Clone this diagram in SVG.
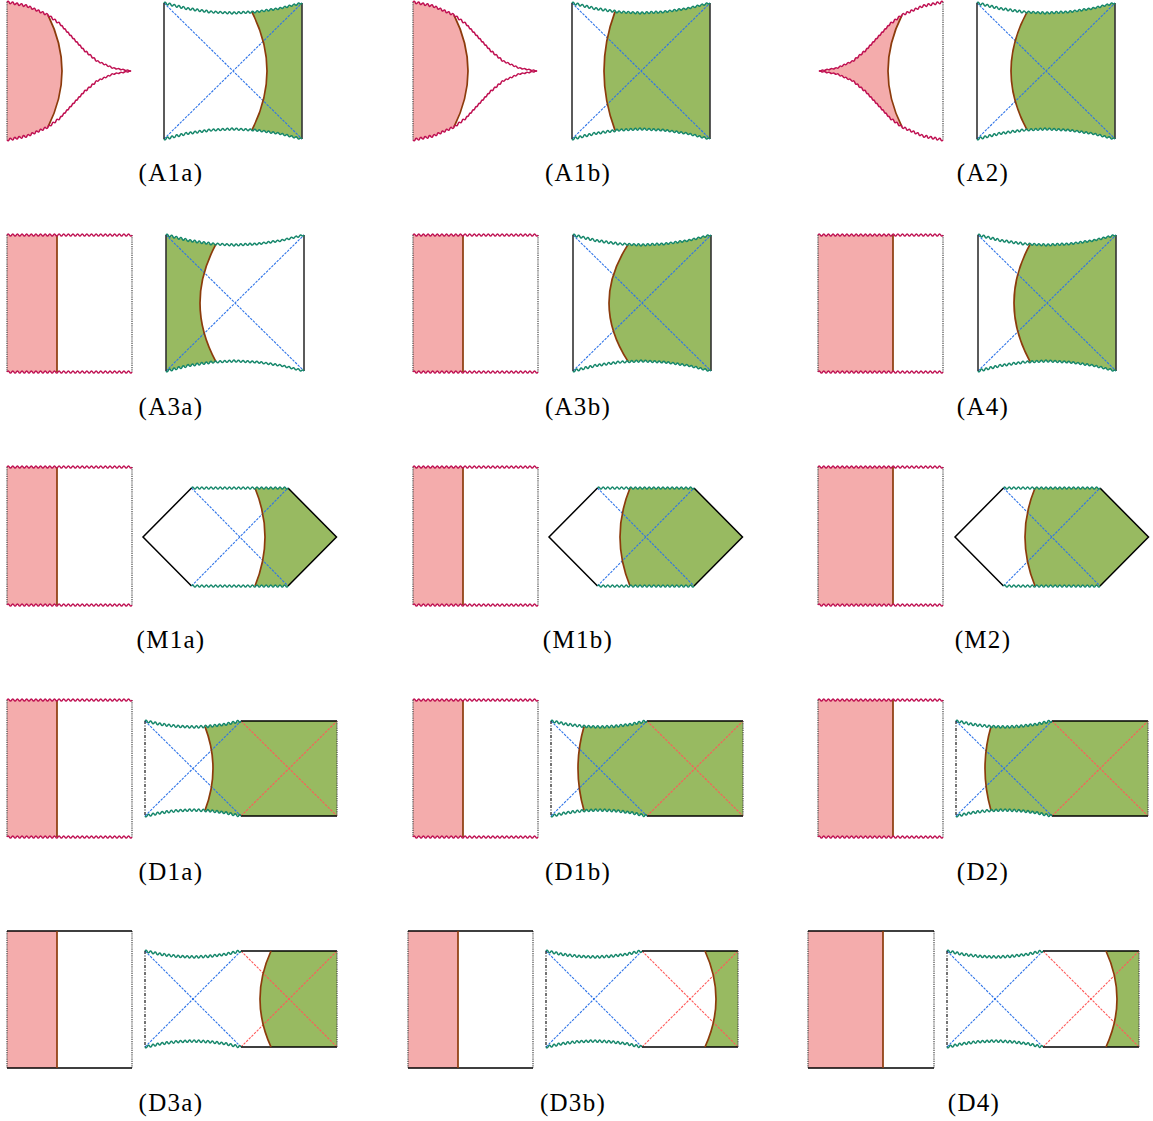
<svg xmlns="http://www.w3.org/2000/svg" xmlns:xlink="http://www.w3.org/1999/xlink" width="1153" height="1121" viewBox="0 0 1153 1121">
<style>
.pink{fill:#F4ACAC}
.green{fill:#98BA61}
.arc{fill:none;stroke:#8C3B0C;stroke-width:1.7}
.wr{fill:none;stroke:#BF1152;stroke-width:1.5}
.wg{fill:none;stroke:#16876B;stroke-width:1.5}
.dot{fill:none;stroke:#444;stroke-width:1.2;stroke-dasharray:1.2,1}
.edge{fill:none;stroke:#333;stroke-width:1.6}
.blk{fill:none;stroke:#000;stroke-width:1.5}
.blue{fill:none;stroke:#2F74E8;stroke-width:1.1;stroke-dasharray:2.5,1.2}
.red{fill:none;stroke:#FF5A5A;stroke-width:1.1;stroke-dasharray:2.5,1.2}
.dd{fill:none;stroke:#000;stroke-width:1.1;stroke-dasharray:3,1.5,1,1.5}
.lbl{font-family:"Liberation Serif","Times New Roman",serif;font-size:25px;text-anchor:middle;letter-spacing:1.3px;fill:#000}
</style>
<defs>
<path id="bw" d="M0,0q1.15,-1.9 2.3,0.556t2.3,0.556 2.3,0.556 2.3,0.556 2.3,0.556 2.3,0.556 2.3,0.556 2.3,0.556 2.3,0.556 2.3,0.556 2.3,0.333 2.3,0.333 2.3,0.333 2.3,0.333 2.3,0.333 2.3,0.333 2.3,0.333 2.3,0.333 2.3,0.333 2.3,0.333 2.3,0.111 2.3,0.111 2.3,0.111 2.3,0.111 2.3,0.111 2.3,0.111 2.3,0.111 2.3,0.111 2.3,0.111 2.3,0.111 2.3,-0.111 2.3,-0.111 2.3,-0.111 2.3,-0.111 2.3,-0.111 2.3,-0.111 2.3,-0.111 2.3,-0.111 2.3,-0.111 2.3,-0.111 2.3,-0.333 2.3,-0.333 2.3,-0.333 2.3,-0.333 2.3,-0.333 2.3,-0.333 2.3,-0.333 2.3,-0.333 2.3,-0.333 2.3,-0.333 2.3,-0.556 2.3,-0.556 2.3,-0.556 2.3,-0.556 2.3,-0.556 2.3,-0.556 2.3,-0.556 2.3,-0.556 2.3,-0.556 2.3,-0.556"/>
<path id="dw" d="M0,0q1.143,-1.95 2.286,0.476t2.286,0.476 2.286,0.476 2.286,0.476 2.286,0.476 2.286,0.476 2.286,0.476 2.286,0.286 2.286,0.286 2.286,0.286 2.286,0.286 2.286,0.286 2.286,0.286 2.286,0.286 2.286,0.095 2.286,0.095 2.286,0.095 2.286,0.095 2.286,0.095 2.286,0.095 2.286,0.095 2.286,-0.095 2.286,-0.095 2.286,-0.095 2.286,-0.095 2.286,-0.095 2.286,-0.095 2.286,-0.095 2.286,-0.286 2.286,-0.286 2.286,-0.286 2.286,-0.286 2.286,-0.286 2.286,-0.286 2.286,-0.286 2.286,-0.476 2.286,-0.476 2.286,-0.476 2.286,-0.476 2.286,-0.476 2.286,-0.476 2.286,-0.476"/>
<path id="sw" d="M0,0q1.157,-2.2 2.315,0t2.315,0 2.315,0 2.315,0 2.315,0 2.315,0 2.315,0 2.315,0 2.315,0 2.315,0 2.315,0 2.315,0 2.315,0 2.315,0 2.315,0 2.315,0 2.315,0 2.315,0 2.315,0 2.315,0 2.315,0 2.315,0 2.315,0 2.315,0 2.315,0 2.315,0 2.315,0 2.315,0 2.315,0 2.315,0 2.315,0 2.315,0 2.315,0 2.315,0 2.315,0 2.315,0 2.315,0 2.315,0 2.315,0 2.315,0 2.315,0 2.315,0 2.315,0 2.315,0 2.315,0 2.315,0 2.315,0 2.315,0 2.315,0 2.315,0 2.315,0 2.315,0 2.315,0 2.315,0"/>
<path id="hw" d="M0,0q1.149,-2.2 2.298,0t2.298,0 2.298,0 2.298,0 2.298,0 2.298,0 2.298,0 2.298,0 2.298,0 2.298,0 2.298,0 2.298,0 2.298,0 2.298,0 2.298,0 2.298,0 2.298,0 2.298,0 2.298,0 2.298,0 2.298,0 2.298,0 2.298,0 2.298,0 2.298,0 2.298,0 2.298,0 2.298,0 2.298,0 2.298,0 2.298,0 2.298,0 2.298,0 2.298,0 2.298,0 2.298,0 2.298,0 2.298,0 2.298,0 2.298,0 2.298,0 2.298,0"/>
<path id="cw" d="M0,0q1.4,-1.9 2.222,0.444t2.222,0.444 2.222,0.444 2.222,0.444 2.222,0.444 2.222,0.444 2.222,0.444 2.222,0.444 2.222,0.444 2.1,0.9 2.1,0.9 2.1,0.9 2.1,0.9 2.1,0.9 2.1,0.9 2.1,0.9 2.1,0.9 2.1,0.9 2.1,0.9 2,1.5 2,1.5 2,1.5 2,1.5 2,1.5 2,1.5 1.5,1.625 1.5,1.625 1.5,1.625 1.5,1.625 1.5,1.625 1.5,1.625 1.5,1.625 1.5,1.625 1.5,1.625 1.5,1.625 1.5,1.625 1.5,1.625 1.5,1.625 1.5,1.625 1.5,1.625 1.5,1.625 1.857,1.571 1.857,1.571 1.857,1.571 1.857,1.571 1.857,1.571 1.857,1.571 1.857,1.571 2,0.875 2,0.875 2,0.875 2,0.875 2,0.875 2,0.875 2,0.875 2,0.875 2.25,0.375 2.25,0.375 2.25,0.375 2.25,0.375 2.25,0.375 2.25,0.375 2.25,0.375 2.25,0.375"/>
<clipPath id="bclip" clipPathUnits="userSpaceOnUse"><path d="M0,0 Q69,20 138,0 L138,136 Q69,116 0,136 Z"/></clipPath>
<clipPath id="dclip" clipPathUnits="userSpaceOnUse"><path d="M0,0 Q48,12 96,0 L192,0 L192,95 L96,95 Q48,83 0,95 Z"/></clipPath>
</defs>

<g id="A1a">
 <g id="A1a-left">
  <path class="pink" d="M7,2 L27,6 L48,15 Q76,71 48,127 L27,136 L7,140 Z"/>
  <path class="dot" d="M7,2 V140"/>
  <path class="arc" d="M48,15 Q76,71 48,127"/>
  <use href="#cw" class="wr" x="7" y="2"/>
  <use href="#cw" class="wr" transform="translate(7,140) scale(1,-1)"/>
 </g>
 <g id="A1a-right" transform="translate(164,3)">
  <path class="green" clip-path="url(#bclip)" d="M88,9.2 Q118,68 88,126.8 L88,140 L142,140 L142,-4 L88,-4 Z"/>
  <path class="blue" d="M0,0 L138,136 M0,136 L138,0"/>
  <path class="edge" d="M0,0 V136 M138,0 V136"/>
  <path class="arc" d="M88,9.2 Q118,68 88,126.8"/>
  <use href="#bw" class="wg"/>
  <use href="#bw" class="wg" transform="translate(0,136) scale(1,-1)"/>
 </g>
 <text class="lbl" x="171" y="181">(A1a)</text>
</g>

<g id="A1b">
 <g id="A1b-left" transform="translate(406,0)">
  <path class="pink" d="M7,2 L27,6 L48,15 Q76,71 48,127 L27,136 L7,140 Z"/>
  <path class="dot" d="M7,2 V140"/>
  <path class="arc" d="M48,15 Q76,71 48,127"/>
  <use href="#cw" class="wr" x="7" y="2"/>
  <use href="#cw" class="wr" transform="translate(7,140) scale(1,-1)"/>
 </g>
 <g id="A1b-right" transform="translate(572,3)">
  <path class="green" clip-path="url(#bclip)" d="M43,8.6 Q21,68 43,127.4 L43,140 L142,140 L142,-4 L43,-4 Z"/>
  <path class="blue" d="M0,0 L138,136 M0,136 L138,0"/>
  <path class="edge" d="M0,0 V136 M138,0 V136"/>
  <path class="arc" d="M43,8.6 Q21,68 43,127.4"/>
  <use href="#bw" class="wg"/>
  <use href="#bw" class="wg" transform="translate(0,136) scale(1,-1)"/>
 </g>
 <text class="lbl" x="578" y="181">(A1b)</text>
</g>

<g id="A2">
 <g id="A2-left" transform="translate(950,0) scale(-1,1)">
  <path class="pink" d="M48,15 L60,24 L72,37 L84,50 L97,61 L113,68 L131,71 L113,74 L97,81 L84,92 L72,105 L60,118 L48,127 Q76,71 48,15 Z"/>
  <path class="dot" d="M7,2 V140"/>
  <path class="arc" d="M48,15 Q76,71 48,127"/>
  <use href="#cw" class="wr" x="7" y="2"/>
  <use href="#cw" class="wr" transform="translate(7,140) scale(1,-1)"/>
 </g>
 <g id="A2-right" transform="translate(977,3)">
  <path class="green" clip-path="url(#bclip)" d="M50,9.2 Q18,68 50,126.8 L50,140 L142,140 L142,-4 L50,-4 Z"/>
  <path class="blue" d="M0,0 L138,136 M0,136 L138,0"/>
  <path class="edge" d="M0,0 V136 M138,0 V136"/>
  <path class="arc" d="M50,9.2 Q18,68 50,126.8"/>
  <use href="#bw" class="wg"/>
  <use href="#bw" class="wg" transform="translate(0,136) scale(1,-1)"/>
 </g>
 <text class="lbl" x="983" y="181">(A2)</text>
</g>

<g id="A3a">
 <g id="A3a-left" transform="translate(7,235)">
  <rect class="pink" x="0" y="0" width="50" height="137"/>
  <path class="dot" d="M0,0 V137 M125,0 V137"/>
  <path class="arc" d="M50,0 V137"/>
  <use href="#sw" class="wr"/>
  <use href="#sw" class="wr" y="137"/>
 </g>
 <g id="A3a-right" transform="translate(166,235)">
  <path class="green" clip-path="url(#bclip)" d="M50,9.2 Q18,68 50,126.8 L50,140 L-4,140 L-4,-4 L50,-4 Z"/>
  <path class="blue" d="M0,0 L138,136 M0,136 L138,0"/>
  <path class="edge" d="M0,0 V136 M138,0 V136"/>
  <path class="arc" d="M50,9.2 Q18,68 50,126.8"/>
  <use href="#bw" class="wg"/>
  <use href="#bw" class="wg" transform="translate(0,136) scale(1,-1)"/>
 </g>
 <text class="lbl" x="171" y="415">(A3a)</text>
</g>

<g id="A3b">
 <g id="A3b-left" transform="translate(413,235)">
  <rect class="pink" x="0" y="0" width="50" height="137"/>
  <path class="dot" d="M0,0 V137 M125,0 V137"/>
  <path class="arc" d="M50,0 V137"/>
  <use href="#sw" class="wr"/>
  <use href="#sw" class="wr" y="137"/>
 </g>
 <g id="A3b-right" transform="translate(573,235)">
  <path class="green" clip-path="url(#bclip)" d="M55,9.6 Q17,68 55,126.4 L55,140 L142,140 L142,-4 L55,-4 Z"/>
  <path class="blue" d="M0,0 L138,136 M0,136 L138,0"/>
  <path class="edge" d="M0,0 V136 M138,0 V136"/>
  <path class="arc" d="M55,9.6 Q17,68 55,126.4"/>
  <use href="#bw" class="wg"/>
  <use href="#bw" class="wg" transform="translate(0,136) scale(1,-1)"/>
 </g>
 <text class="lbl" x="578" y="415">(A3b)</text>
</g>

<g id="A4">
 <g id="A4-left" transform="translate(818,235)">
  <rect class="pink" x="0" y="0" width="75" height="137"/>
  <path class="dot" d="M0,0 V137 M125,0 V137"/>
  <path class="arc" d="M75,0 V137"/>
  <use href="#sw" class="wr"/>
  <use href="#sw" class="wr" y="137"/>
 </g>
 <g id="A4-right" transform="translate(978,235)">
  <path class="green" clip-path="url(#bclip)" d="M52,9.4 Q20,68 52,126.6 L52,140 L142,140 L142,-4 L52,-4 Z"/>
  <path class="blue" d="M0,0 L138,136 M0,136 L138,0"/>
  <path class="edge" d="M0,0 V136 M138,0 V136"/>
  <path class="arc" d="M52,9.4 Q20,68 52,126.6"/>
  <use href="#bw" class="wg"/>
  <use href="#bw" class="wg" transform="translate(0,136) scale(1,-1)"/>
 </g>
 <text class="lbl" x="983" y="415">(A4)</text>
</g>

<g id="M1a">
 <g id="M1a-left" transform="translate(7,467)">
  <rect class="pink" x="0" y="0" width="50" height="138"/>
  <path class="dot" d="M0,0 V138 M125,0 V138"/>
  <path class="arc" d="M50,0 V138"/>
  <use href="#sw" class="wr"/>
  <use href="#sw" class="wr" y="138"/>
 </g>
 <g id="M1a-right" transform="translate(143,537)">
  <path class="green" d="M112,-49 Q132,0 112,49 L145,49 L193.5,0 L145,-49 Z"/>
  <path class="blue" d="M48.5,-49 L145,49 M48.5,49 L145,-49"/>
  <path class="blk" d="M48.5,-49 L0,0 L48.5,49 M145,-49 L193.5,0 L145,49"/>
  <path class="arc" d="M112,-49 Q132,0 112,49"/>
  <use href="#hw" class="wg" x="48.5" y="-49"/>
  <use href="#hw" class="wg" x="48.5" y="49"/>
 </g>
 <text class="lbl" x="171" y="648">(M1a)</text>
</g>

<g id="M1b">
 <g id="M1b-left" transform="translate(413,467)">
  <rect class="pink" x="0" y="0" width="50" height="138"/>
  <path class="dot" d="M0,0 V138 M125,0 V138"/>
  <path class="arc" d="M50,0 V138"/>
  <use href="#sw" class="wr"/>
  <use href="#sw" class="wr" y="138"/>
 </g>
 <g id="M1b-right" transform="translate(549,537)">
  <path class="green" d="M81,-49 Q61,0 81,49 L145,49 L193.5,0 L145,-49 Z"/>
  <path class="blue" d="M48.5,-49 L145,49 M48.5,49 L145,-49"/>
  <path class="blk" d="M48.5,-49 L0,0 L48.5,49 M145,-49 L193.5,0 L145,49"/>
  <path class="arc" d="M81,-49 Q61,0 81,49"/>
  <use href="#hw" class="wg" x="48.5" y="-49"/>
  <use href="#hw" class="wg" x="48.5" y="49"/>
 </g>
 <text class="lbl" x="578" y="648">(M1b)</text>
</g>

<g id="M2">
 <g id="M2-left" transform="translate(818,467)">
  <rect class="pink" x="0" y="0" width="75" height="138"/>
  <path class="dot" d="M0,0 V138 M125,0 V138"/>
  <path class="arc" d="M75,0 V138"/>
  <use href="#sw" class="wr"/>
  <use href="#sw" class="wr" y="138"/>
 </g>
 <g id="M2-right" transform="translate(955,537)">
  <path class="green" d="M80,-49 Q60,0 80,49 L145,49 L193.5,0 L145,-49 Z"/>
  <path class="blue" d="M48.5,-49 L145,49 M48.5,49 L145,-49"/>
  <path class="blk" d="M48.5,-49 L0,0 L48.5,49 M145,-49 L193.5,0 L145,49"/>
  <path class="arc" d="M80,-49 Q60,0 80,49"/>
  <use href="#hw" class="wg" x="48.5" y="-49"/>
  <use href="#hw" class="wg" x="48.5" y="49"/>
 </g>
 <text class="lbl" x="983" y="648">(M2)</text>
</g>

<g id="D1a">
 <g id="D1a-left" transform="translate(7,700)">
  <rect class="pink" x="0" y="0" width="50" height="137"/>
  <path class="dot" d="M0,0 V137 M125,0 V137"/>
  <path class="arc" d="M50,0 V137"/>
  <use href="#sw" class="wr"/>
  <use href="#sw" class="wr" y="137"/>
 </g>
 <g id="D1a-right" transform="translate(145,721)">
  <path class="green" clip-path="url(#dclip)" d="M60,5.6 Q76,47.5 60,89.4 L60,100 L195,100 L195,-5 L60,-5 Z"/>
  <path class="blue" d="M0,0 L96,95 M0,95 L96,0"/>
  <path class="red" d="M96,0 L192,95 M96,95 L192,0"/>
  <path class="blk" d="M96,0 H192 M96,95 H192"/>
  <path class="dd" d="M0,0 V95"/>
  <path class="dot" d="M192,0 V95"/>
  <path class="arc" d="M60,5.6 Q76,47.5 60,89.4"/>
  <use href="#dw" class="wg"/>
  <use href="#dw" class="wg" transform="translate(0,95) scale(1,-1)"/>
 </g>
 <text class="lbl" x="171" y="880">(D1a)</text>
</g>

<g id="D1b">
 <g id="D1b-left" transform="translate(413,700)">
  <rect class="pink" x="0" y="0" width="50" height="137"/>
  <path class="dot" d="M0,0 V137 M125,0 V137"/>
  <path class="arc" d="M50,0 V137"/>
  <use href="#sw" class="wr"/>
  <use href="#sw" class="wr" y="137"/>
 </g>
 <g id="D1b-right" transform="translate(551,721)">
  <path class="green" clip-path="url(#dclip)" d="M33,5.4 Q21,47.5 33,89.6 L33,100 L195,100 L195,-5 L33,-5 Z"/>
  <path class="blue" d="M0,0 L96,95 M0,95 L96,0"/>
  <path class="red" d="M96,0 L192,95 M96,95 L192,0"/>
  <path class="blk" d="M96,0 H192 M96,95 H192"/>
  <path class="dd" d="M0,0 V95"/>
  <path class="dot" d="M192,0 V95"/>
  <path class="arc" d="M33,5.4 Q21,47.5 33,89.6"/>
  <use href="#dw" class="wg"/>
  <use href="#dw" class="wg" transform="translate(0,95) scale(1,-1)"/>
 </g>
 <text class="lbl" x="578" y="880">(D1b)</text>
</g>

<g id="D2">
 <g id="D2-left" transform="translate(818,700)">
  <rect class="pink" x="0" y="0" width="75" height="137"/>
  <path class="dot" d="M0,0 V137 M125,0 V137"/>
  <path class="arc" d="M75,0 V137"/>
  <use href="#sw" class="wr"/>
  <use href="#sw" class="wr" y="137"/>
 </g>
 <g id="D2-right" transform="translate(956,721)">
  <path class="green" clip-path="url(#dclip)" d="M35,5.6 Q23,47.5 35,89.4 L35,100 L195,100 L195,-5 L35,-5 Z"/>
  <path class="blue" d="M0,0 L96,95 M0,95 L96,0"/>
  <path class="red" d="M96,0 L192,95 M96,95 L192,0"/>
  <path class="blk" d="M96,0 H192 M96,95 H192"/>
  <path class="dd" d="M0,0 V95"/>
  <path class="dot" d="M192,0 V95"/>
  <path class="arc" d="M35,5.6 Q23,47.5 35,89.4"/>
  <use href="#dw" class="wg"/>
  <use href="#dw" class="wg" transform="translate(0,95) scale(1,-1)"/>
 </g>
 <text class="lbl" x="983" y="880">(D2)</text>
</g>

<g id="D3a">
 <g id="D3a-left" transform="translate(7,931)">
  <rect class="pink" x="0" y="0" width="50" height="137"/>
  <path class="dot" d="M0,0 V137 M125,0 V137"/>
  <path class="blk" d="M0,0 H125 M0,137 H125"/>
  <path class="arc" d="M50,0 V137"/>
 </g>
 <g id="D3a-right" transform="translate(145,951)">
  <path class="green" d="M126,0 Q104,48 126,96 L192,96 L192,0 Z"/>
  <path class="blue" d="M0,0 L96,96 M0,96 L96,0"/>
  <path class="red" d="M96,0 L192,96 M96,96 L192,0"/>
  <path class="blk" d="M96,0 H192 M96,96 H192"/>
  <path class="dd" d="M0,0 V96"/>
  <path class="dot" d="M192,0 V96"/>
  <path class="arc" d="M126,0 Q104,48 126,96"/>
  <use href="#dw" class="wg"/>
  <use href="#dw" class="wg" transform="translate(0,96) scale(1,-1)"/>
 </g>
 <text class="lbl" x="171" y="1111">(D3a)</text>
</g>

<g id="D3b">
 <g id="D3b-left" transform="translate(408,931)">
  <rect class="pink" x="0" y="0" width="50" height="137"/>
  <path class="dot" d="M0,0 V137 M125,0 V137"/>
  <path class="blk" d="M0,0 H125 M0,137 H125"/>
  <path class="arc" d="M50,0 V137"/>
 </g>
 <g id="D3b-right" transform="translate(546,951)">
  <path class="green" d="M159,0 Q181,48 159,96 L192,96 L192,0 Z"/>
  <path class="blue" d="M0,0 L96,96 M0,96 L96,0"/>
  <path class="red" d="M96,0 L192,96 M96,96 L192,0"/>
  <path class="blk" d="M96,0 H192 M96,96 H192"/>
  <path class="dd" d="M0,0 V96"/>
  <path class="dot" d="M192,0 V96"/>
  <path class="arc" d="M159,0 Q181,48 159,96"/>
  <use href="#dw" class="wg"/>
  <use href="#dw" class="wg" transform="translate(0,96) scale(1,-1)"/>
 </g>
 <text class="lbl" x="573" y="1111">(D3b)</text>
</g>

<g id="D4">
 <g id="D4-left" transform="translate(808,931)">
  <rect class="pink" x="0" y="0" width="75" height="137"/>
  <path class="dot" d="M0,0 V137 M126,0 V137"/>
  <path class="blk" d="M0,0 H126 M0,137 H126"/>
  <path class="arc" d="M75,0 V137"/>
 </g>
 <g id="D4-right" transform="translate(947,951)">
  <path class="green" d="M159,0 Q181,48 159,96 L192,96 L192,0 Z"/>
  <path class="blue" d="M0,0 L96,96 M0,96 L96,0"/>
  <path class="red" d="M96,0 L192,96 M96,96 L192,0"/>
  <path class="blk" d="M96,0 H192 M96,96 H192"/>
  <path class="dd" d="M0,0 V96"/>
  <path class="dot" d="M192,0 V96"/>
  <path class="arc" d="M159,0 Q181,48 159,96"/>
  <use href="#dw" class="wg"/>
  <use href="#dw" class="wg" transform="translate(0,96) scale(1,-1)"/>
 </g>
 <text class="lbl" x="974" y="1111">(D4)</text>
</g>

<g id="connectors"></g>
</svg>
